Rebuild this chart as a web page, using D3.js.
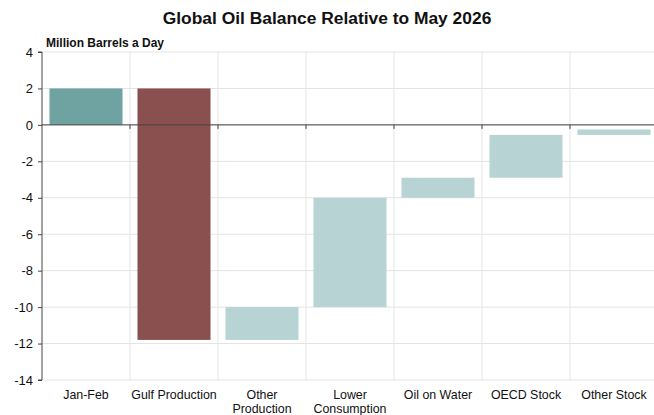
<!DOCTYPE html>
<html>
<head>
<meta charset="utf-8">
<script src="https://cdn.jsdelivr.net/npm/d3@7"></script>
<style>
  body { margin: 0; background: #fff; }
  text { font-family: "Liberation Sans", Arial, sans-serif; }
</style>
</head>
<body>
<div class="chart"></div>
<script>
// categories and changes (million b/d)
const categories = ['Jan-Feb', 'Gulf Production', 'Other Production', 'Lower Consumption', 'Oil on Water', 'OECD Stock', 'Other Stock'];
const changes = [2, -13.8, 1.8, 6, 1.1, 2.35, 0.3];
const barKinds = ['start', 'shock', 'offset', 'offset', 'offset', 'offset', 'offset'];
const yTicks = [4, 2, 0, -2, -4, -6, -8, -10, -12, -14];

const colors = { start: '#6fa3a2', shock: '#8a4f4f', offset: '#b7d3d4' };

// build waterfall steps
let running = 0;
const steps = categories.map((c, i) => {
    const from = running;
    running += changes[i];
    return { name: c, from: from, to: running, kind: barKinds[i] };
});

const width = 654;
const height = 415;
const margin = { top: 52, right: -4, bottom: 35, left: 42 };

const svg = d3.select('.chart')
    .append('svg')
    .attr('width', width)
    .attr('height', height);

const x = d3.scaleBand()
    .domain(categories)
    .range([margin.left, width - margin.right])
    .paddingInner(0.17)
    .paddingOuter(0.085);

const y = d3.scaleLinear()
    .domain([-14, 4])
    .range([height - margin.bottom, margin.top]);

const step = x.step();
const bounds = d3.range(categories.length + 1).map(i => margin.left + i * step);

// gridlines
svg.selectAll('.hgrid')
    .data(yTicks)
    .enter()
    .append('line')
    .attr('x1', margin.left)
    .attr('x2', width)
    .attr('y1', d => y(d))
    .attr('y2', d => y(d))
    .attr('stroke', '#e3e3e3')
    .attr('stroke-width', 1);

svg.selectAll('.vgrid')
    .data(bounds.slice(1))
    .enter()
    .append('line')
    .attr('x1', d => d)
    .attr('x2', d => d)
    .attr('y1', y(4))
    .attr('y2', y(-14))
    .attr('stroke', '#e3e3e3')
    .attr('stroke-width', 1);

// bars
svg.selectAll('.bar')
    .data(steps)
    .enter()
    .append('rect')
    .attr('class', 'bar')
    .attr('x', d => x(d.name))
    .attr('width', x.bandwidth())
    .attr('y', d => y(Math.max(d.from, d.to)))
    .attr('height', d => Math.abs(y(d.from) - y(d.to)))
    .attr('fill', d => colors[d.kind]);

// y axis (plain hyphen minus like the original)
const yAxis = d3.axisLeft(y)
    .tickValues(yTicks)
    .tickFormat(d => String(d))
    .tickSize(4)
    .tickPadding(5);

svg.append('g')
    .attr('transform', `translate(${margin.left},0)`)
    .call(yAxis)
    .call(g => g.select('.domain').attr('stroke', '#444').attr('d', `M-4,${y(4)}H0V${y(-14)}H-4`))
    .call(g => g.selectAll('.tick line').attr('stroke', '#444'))
    .call(g => g.selectAll('.tick text')
        .attr('font-size', '13px')
        .attr('fill', '#111')
        .style('font-family', '"Liberation Sans", Arial, sans-serif'));

// zero line with ticks at band boundaries
svg.append('line')
    .attr('x1', margin.left)
    .attr('x2', width)
    .attr('y1', y(0))
    .attr('y2', y(0))
    .attr('stroke', '#444')
    .attr('stroke-width', 1);

svg.selectAll('.zero-tick')
    .data(bounds.slice(1))
    .enter()
    .append('line')
    .attr('x1', d => d)
    .attr('x2', d => d)
    .attr('y1', y(0))
    .attr('y2', y(0) + 4)
    .attr('stroke', '#444');

// category labels
const labelLines = {
    'Other Production': ['Other', 'Production'],
    'Lower Consumption': ['Lower', 'Consumption']
};
const catLabels = svg.selectAll('.cat-label')
    .data(categories)
    .enter()
    .append('text')
    .attr('text-anchor', 'middle')
    .attr('font-size', '12.4px')
    .attr('fill', '#111')
    .attr('y', 399);

catLabels.selectAll('tspan')
    .data(c => (labelLines[c] || [c]).map(t => ({ t: t, c: c })))
    .enter()
    .append('tspan')
    .attr('x', d => x(d.c) + x.bandwidth() / 2)
    .attr('dy', (d, i) => i === 0 ? 0 : 14)
    .text(d => d.t);

// title
svg.append('text')
    .attr('x', 327)
    .attr('y', 24)
    .attr('text-anchor', 'middle')
    .attr('font-size', '17.4px')
    .attr('font-weight', 'bold')
    .attr('fill', '#111')
    .text('Global Oil Balance Relative to May 2026');

// units label
svg.append('text')
    .attr('x', 46)
    .attr('y', 47)
    .attr('font-size', '12px')
    .attr('font-weight', 'bold')
    .attr('fill', '#111')
    .text('Million Barrels a Day');
</script>
</body>
</html>
